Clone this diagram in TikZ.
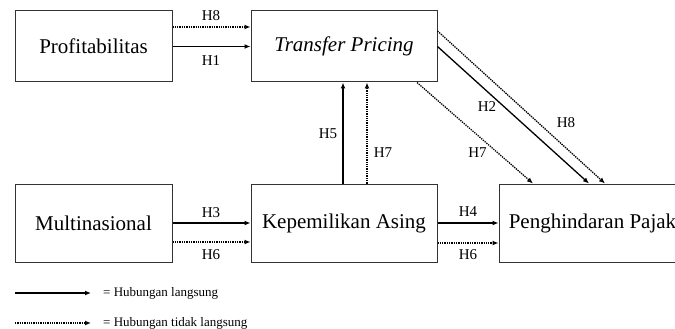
\documentclass[tikz,border=0pt]{standalone}
\usepackage{fontspec}
\setmainfont{Liberation Serif}
\usetikzlibrary{arrows.meta}
\begin{document}
\begin{tikzpicture}[x=1pt,y=-1pt,
  box/.style={draw=black!80,line width=1pt,inner sep=0pt,font=\fontsize{21}{24}\selectfont},
  solidarrow/.style={line width=1.3pt,-{Latex[length=6pt,width=5pt]}},
  dotarrow/.style={line width=1.3pt,dash pattern=on 1.3pt off 1pt,-{Latex[open,length=6pt,width=5pt]}},
  lab/.style={font=\fontsize{15}{17}\selectfont,inner sep=0pt},
  legtext/.style={font=\fontsize{13}{15}\selectfont,inner sep=0pt,anchor=west}]
\useasboundingbox[clip] (0,0) rectangle (675,329);
\node[box,minimum width=157pt,minimum height=71pt] (P) at (93.5,46.5) {Profitabilitas};
\node[box,minimum width=186pt,minimum height=71pt] (TP) at (344,46.5) {\textit{Transfer Pricing}};
\node[box,minimum width=157pt,minimum height=78pt] (M) at (93.5,223) {Multinasional};
\node[box,minimum width=186pt,minimum height=78pt] (K) at (344,223) {Kepemilikan Asing};
\node[box,minimum width=187pt,minimum height=78pt] (PP) at (592.5,223) {Penghindaran Pajak};
% arrows
\draw[dotarrow] ([yshift=19.5pt]P.east) -- ([yshift=19.5pt]TP.west);
\draw[solidarrow] (P.east) -- (TP.west);
\draw[solidarrow] ([xshift=-1pt]K.north) -- ([xshift=-1pt]TP.south);
\draw[dotarrow] ([xshift=23pt]K.north) -- ([xshift=23pt]TP.south);
\draw[dotarrow] ([xshift=73pt]TP.south) -- ([xshift=-59.5pt]PP.north);
\draw[solidarrow] (TP.east) -- ([xshift=-3.5pt]PP.north);
\draw[dotarrow] ([yshift=15.5pt]TP.east) -- ([xshift=12.5pt]PP.north);
\draw[solidarrow] (M.east) -- (K.west);
\draw[dotarrow] ([yshift=-19pt]M.east) -- ([yshift=-19pt]K.west);
\draw[solidarrow] (K.east) -- (PP.west);
\draw[dotarrow] ([yshift=-20pt]K.east) -- ([yshift=-20pt]PP.west);
% labels
\node[lab] (h8a) at (211,16) {H8};
\node[lab] (h1) at (211,61) {H1};
\node[lab] (h5) at (328,134) {H5};
\node[lab] (h7a) at (383,153) {H7};
\node[lab] (h7b) at (477.5,153) {H7};
\node[lab] (h2) at (487,107) {H2};
\node[lab] (h8b) at (566,123) {H8};
\node[lab] (h3) at (211,213) {H3};
\node[lab] (h6a) at (211,255) {H6};
\node[lab] (h4) at (468,212) {H4};
\node[lab] (h6b) at (468,255) {H6};
% legend
\coordinate (l1a) at (15,293);
\coordinate (l1b) at (91,293);
\coordinate (l2a) at (15,323);
\coordinate (l2b) at (91,323);
\draw[solidarrow] (l1a) -- (l1b);
\draw[dotarrow] (l2a) -- (l2b);
\node[legtext] (t1) at (103,293) {= Hubungan langsung};
\node[legtext] (t2) at (103,323) {= Hubungan tidak langsung};
\end{tikzpicture}
\end{document}
